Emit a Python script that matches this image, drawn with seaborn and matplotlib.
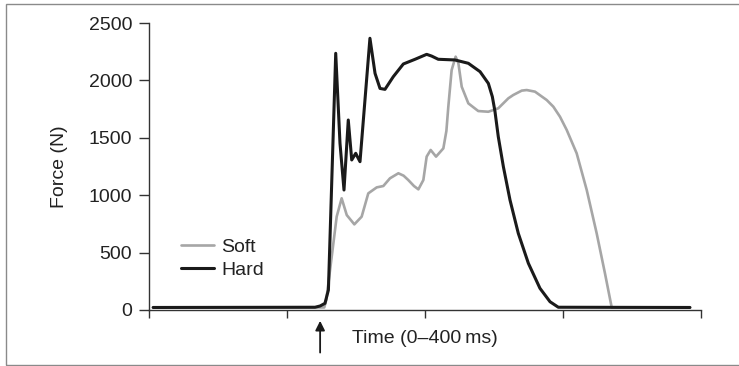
import matplotlib
matplotlib.use('Agg')
import matplotlib.pyplot as plt
import seaborn as sns
from matplotlib.patches import Rectangle

# force traces (time in ms, force in N)
soft_time = [3, 127, 128.5, 131.2, 136, 139.6, 143.3, 148.8, 154.1, 158.9, 165, 169.8, 174.6,
             180.7, 184.5, 187.9, 192, 195.2, 198.8, 201.2, 204.1, 208, 213.3, 215.5, 216.9,
             219.3, 222.2, 224.2, 226.6, 231.4, 238.6, 245.9, 253.1, 260.4, 264, 270.1, 273.7,
             279.7, 288.2, 293, 297.8, 302.7, 309.9, 317.2, 324.4, 330.4, 335.3, 392]
soft_force = [22, 22, 90, 348, 813, 973, 827, 746, 813, 1016, 1068, 1080, 1147,
              1191, 1170, 1132, 1080, 1051, 1132, 1336, 1394, 1336, 1408, 1560, 1771,
              2090, 2207, 2149, 1945, 1800, 1733, 1727, 1757, 1844, 1873, 1911, 1916,
              1902, 1829, 1771, 1684, 1568, 1365, 1045, 668, 320, 22, 22]

hard_time = [3, 120.3, 124, 127.5, 130, 135.3, 138.4, 141.3, 144.4, 146.9, 149.8, 151, 152.9,
             160.1, 163.8, 167.4, 171, 177, 184.3, 192.8, 201.2, 204.8, 209.6, 221.7, 231.4,
             239.9, 245.9, 248.8, 250.7, 253.1, 256.8, 261.6, 267.6, 274.9, 283.3, 290.6,
             296.6, 392]
hard_force = [22, 24, 35, 58, 174, 2236, 1452, 1045, 1655, 1307, 1365, 1336, 1292,
              2367, 2061, 1930, 1922, 2032, 2143, 2184, 2227, 2212, 2184, 2178, 2149,
              2076, 1974, 1858, 1730, 1510, 1248, 958, 668, 407, 189, 72,
              24, 22]

y_ticks = [0, 500, 1000, 1500, 2000, 2500]
x_ticks = [0, 100, 200, 300, 400]
onset_time = 124

sns.set_theme(style='white')
plt.rcParams['font.family'] = ['Liberation Sans', 'DejaVu Sans']

fig = plt.figure(figsize=(7.39, 3.66), dpi=100)
ax = fig.add_axes([149 / 739, 56 / 366, 552 / 739, 287 / 366])

sns.lineplot(x=soft_time, y=soft_force, ax=ax, color='#a6a6a6', lw=1.9, label='Soft',
             solid_joinstyle='round')
sns.lineplot(x=hard_time, y=hard_force, ax=ax, color='#1a1a1a', lw=2.2, label='Hard',
             solid_joinstyle='round')

ax.set_xlim(0, 400)
ax.set_ylim(0, 2500)
ax.set_xticks(x_ticks)
ax.set_xticklabels([])
ax.set_yticks(y_ticks)
ax.tick_params(axis='y', direction='out', length=7, width=1, color='#333333',
               labelsize=14, pad=5, left=True, labelcolor='#222222')
ax.tick_params(axis='x', direction='out', length=6, width=1, color='#333333', bottom=True)
sns.despine(ax=ax)
for side in ['left', 'bottom']:
    ax.spines[side].set_color('#333333')
    ax.spines[side].set_linewidth(1)

ax.set_ylabel('Force (N)', fontsize=14, color='#222222')
ax.yaxis.set_label_coords(-0.1476, 0.5)
ax.set_xlabel('Time (0\u2013400\u2009ms)', fontsize=14, color='#222222', va='center')
ax.xaxis.set_label_coords(0.5, -0.0976)

# arrow marking onset of contact
ax.annotate('', xy=(onset_time, -70), xytext=(onset_time, -395),
            arrowprops=dict(arrowstyle='-|>', color='#1a1a1a', lw=1.3, mutation_scale=14),
            annotation_clip=False)

leg = ax.legend(loc='center left', bbox_to_anchor=(0.058, 0.179), frameon=False,
                fontsize=14, handlelength=1.7, handletextpad=0.35, labelspacing=0.3,
                borderpad=0, borderaxespad=0)
for t in leg.get_texts():
    t.set_color('#222222')

# thin grey frame round the figure
fig.patches.append(Rectangle((6 / 739, 1 / 366), 740 / 739, 361 / 366, transform=fig.transFigure,
                             fill=False, edgecolor='#8a8a8a', lw=1))

fig.savefig('out.png', dpi=100)
